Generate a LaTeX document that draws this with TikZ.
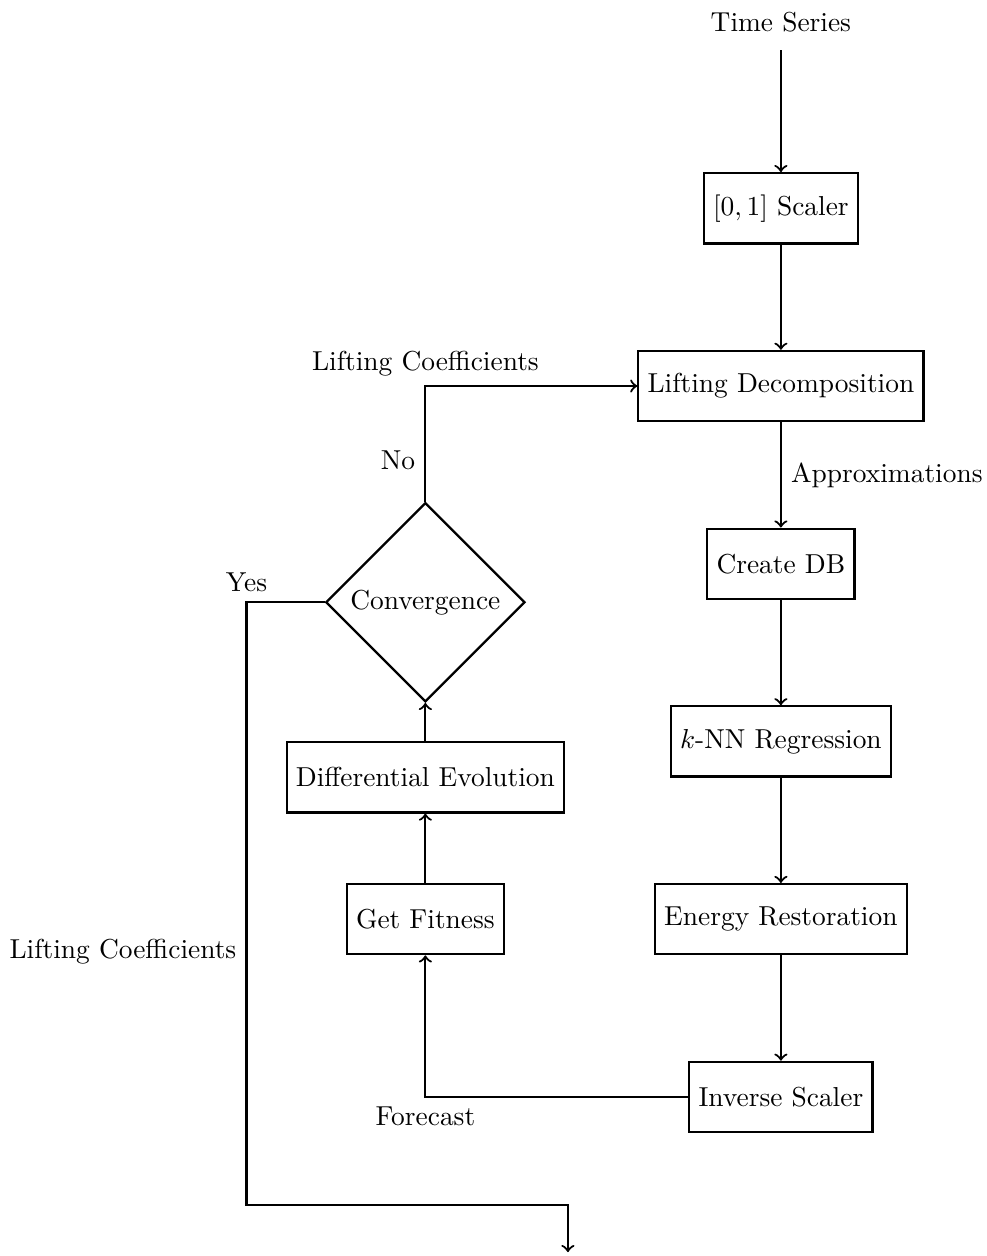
\documentclass[tikz,border=0pt]{standalone}
\usepackage{amsmath}
\usetikzlibrary{shapes.geometric, positioning}

\begin{document}
\begin{tikzpicture}[
    node distance=1.35cm,
    box/.style={rectangle, draw, thick, minimum height=0.9cm, align=center},
    decision/.style={diamond, draw, thick, aspect=1, inner sep=2.2pt},
    arrow/.style={->, thick}
]
    \useasboundingbox (-10.01,2.67) rectangle (2.64,-13.43);
    \node[box] (scaler) at (0,0) {$[0,1]$ Scaler};
    \node[above=1.56cm of scaler, inner sep=6.5pt] (series) {Time Series};
    \node[box, below=of scaler] (lifting) {Lifting Decomposition};
    \node[box, below=of lifting] (db) {Create DB};
    \node[box, below=of db] (knn) {$k$-NN Regression};
    \node[box, below=of knn] (energy) {Energy Restoration};
    \node[box, below=of energy] (inverse) {Inverse Scaler};
    \node[box, left=1.91cm of energy] (fitness) {Get Fitness};
    \node[box, above=0.89cm of fitness] (evolution) {Differential Evolution};
    \node[decision, above=0.49cm of evolution] (conv) {Convergence};
    \coordinate (bend) at (-6.85,-12.78);
    \coordinate (out) at (-2.73,-13.38);

    \draw[arrow] (series) -- (scaler);
    \draw[arrow] (scaler) -- (lifting);
    \draw[arrow] (lifting) -- node[right] {Approximations} (db);
    \draw[arrow] (db) -- (knn);
    \draw[arrow] (knn) -- (energy);
    \draw[arrow] (energy) -- (inverse);
    \draw[arrow] (inverse.west) -| node[pos=0.5, below] {Forecast} (fitness.south);
    \draw[arrow] (fitness) -- (evolution);
    \draw[arrow] (evolution) -- (conv);
    \draw[arrow] (conv.north) |- node[pos=0.18, left] {No} node[pos=0.5, above] {Lifting Coefficients} (lifting.west);
    \draw[arrow] (conv.west) -| node[pos=0.5, above] {Yes} node[pos=0.79, left] {Lifting Coefficients} (bend) -| (out);
\end{tikzpicture}
\end{document}
